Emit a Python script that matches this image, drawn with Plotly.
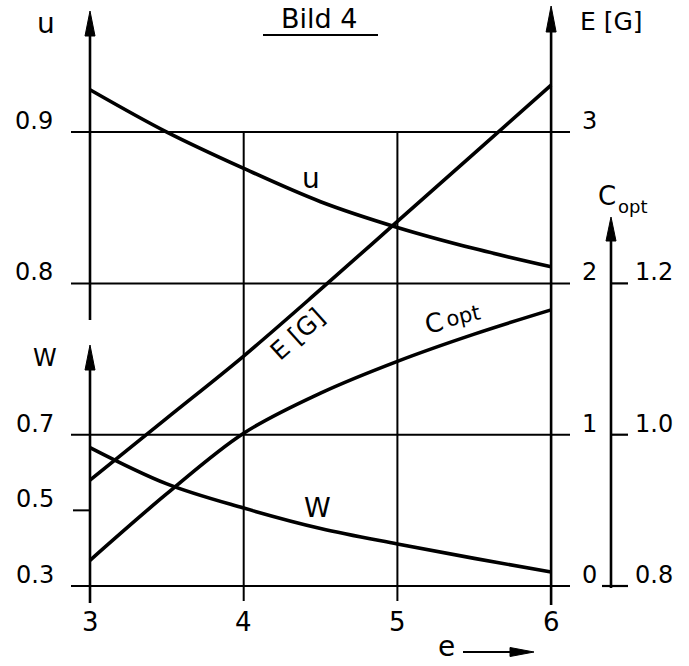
import plotly.graph_objects as go

# ---- data -------------------------------------------------------------
e_vals = [3, 3.5, 4, 4.5, 5, 5.5, 6]
u_vals = [0.928, 0.900, 0.876, 0.854, 0.837, 0.823, 0.811]
eg_vals = [0.70, 1.11, 1.52, 1.96, 2.41, 2.86, 3.31]
w_vals = [0.666, 0.570, 0.506, 0.452, 0.411, 0.373, 0.337]
copt_vals = [0.834, 0.922, 1.002, 1.055, 1.097, 1.133, 1.165]

e_ticks = [3, 4, 5, 6]
u_ticks = [0.8, 0.9]
w_ticks = [0.3, 0.5, 0.7]
eg_ticks = [0, 1, 2, 3]
copt_ticks = [0.8, 1.0, 1.2]

# ---- geometry ---------------------------------------------------------
W_PX, H_PX = 689, 666
X0_PX, XS = 90.0, 153.7      # pixel of e=3, pixels per unit of e
G0_PX, GS = 586.0, 151.3     # pixel of E[G]=0, pixels per unit of E[G]

def px_x(px):
    return 3 + (px - X0_PX) / XS

def px_g(py):
    return (G0_PX - py) / GS

G_LO, G_HI = px_g(H_PX), px_g(0)

# each left/right scale is a linear map of the E[G] grid: value = a + b*g
scales = {"u": (0.8 - 0.2, 0.1), "w": (0.3, 0.4), "c": (0.8, 0.2)}

def rng(key):
    a, b = scales[key]
    return [a + b * G_LO, a + b * G_HI]

INK = "#000000"
FONT = "DejaVu Sans"
LW = 3.6

fig = go.Figure()
fig.add_trace(go.Scatter(x=e_vals, y=eg_vals, yaxis="y", mode="lines",
                         line=dict(color=INK, width=LW, shape="spline"), name="E[G]"))
fig.add_trace(go.Scatter(x=e_vals, y=u_vals, yaxis="y2", mode="lines",
                         line=dict(color=INK, width=LW, shape="spline"), name="u"))
fig.add_trace(go.Scatter(x=e_vals, y=w_vals, yaxis="y3", mode="lines",
                         line=dict(color=INK, width=LW, shape="spline"), name="W"))
fig.add_trace(go.Scatter(x=e_vals, y=copt_vals, yaxis="y4", mode="lines",
                         line=dict(color=INK, width=LW, shape="spline"), name="Copt"))

shapes = []

def seg(x0, y0, x1, y1, yref="y", w=2.0, xref="x"):
    shapes.append(dict(type="line", xref=xref, yref=yref, x0=x0, y0=y0, x1=x1, y1=y1,
                       line=dict(color=INK, width=w), layer="below"))

def ppx(px):
    return px / W_PX

def ppy(py):
    return 1 - py / H_PX

def arrow_up(cx, tip, base, half=5.0):
    path = "M {},{} L {},{} L {},{} Z".format(
        ppx(cx), ppy(tip), ppx(cx - half), ppy(base), ppx(cx + half), ppy(base))
    shapes.append(dict(type="path", xref="paper", yref="paper", path=path,
                       fillcolor=INK, line=dict(color=INK, width=1)))

# horizontal grid lines at the E[G] ticks
for v in eg_ticks:
    seg(px_x(71), v, px_x(570), v, w=2.0)
# short tick for W = 0.5
seg(px_x(73), 0.5, 3, 0.5, yref="y3", w=2.0)
# vertical grid lines at inner e ticks
for v in e_ticks[1:-1]:
    seg(v, 3, v, px_g(601), w=2.0)
# u axis (upper left) and W axis (lower left)
seg(3, px_g(320), 3, px_g(30), w=2.6)
seg(3, px_g(603), 3, px_g(365), w=2.6)
arrow_up(X0_PX, 11, 36)
arrow_up(X0_PX, 345, 370)
# E[G] axis (right)
seg(6, px_g(605), 6, px_g(28), w=2.6)
arrow_up(X0_PX + 3 * XS, 6, 32)
# C_opt axis
xc = px_x(611)
seg(xc, px_g(588), xc, px_g(236), w=2.6)
arrow_up(611, 217, 241)
for v in copt_ticks:
    seg(xc, v, px_x(628), v, yref="y4", w=2.2)
seg(px_x(602), copt_ticks[0], xc, copt_ticks[0], yref="y4", w=2.2)
# title underline
shapes.append(dict(type="line", xref="paper", yref="paper",
                   x0=ppx(263), y0=ppy(35), x1=ppx(378), y1=ppy(35),
                   line=dict(color=INK, width=2)))
# e arrow
shapes.append(dict(type="line", xref="paper", yref="paper",
                   x0=ppx(463), y0=ppy(652), x1=ppx(515), y1=ppy(652),
                   line=dict(color=INK, width=2.2)))
shapes.append(dict(type="path", xref="paper", yref="paper",
                   path="M {},{} L {},{} L {},{} Z".format(
                       ppx(534), ppy(652), ppx(510), ppy(647.5), ppx(510), ppy(656.5)),
                   fillcolor=INK, line=dict(color=INK, width=1)))

ann = []

def text(t, x, y, xref="paper", yref="paper", size=24, xanchor="center",
         yanchor="middle", yshift=0, angle=0):
    ann.append(dict(text=t, x=x, y=y, xref=xref, yref=yref, showarrow=False,
                    xanchor=xanchor, yanchor=yanchor, yshift=yshift, textangle=angle,
                    font=dict(family=FONT, size=size, color=INK)))

# left tick labels
for v in u_ticks:
    text("{:.1f}".format(v), ppx(55), v, yref="y2", xanchor="right", yshift=11)
for v in w_ticks:
    text("{:.1f}".format(v), ppx(56), v, yref="y3", xanchor="right", yshift=11)
# right tick labels
for v in eg_ticks:
    text(str(v), ppx(589), v, yref="y", yshift=11)
for v in copt_ticks:
    text("{:.1f}".format(v), ppx(633), v, yref="y4", xanchor="left", yshift=11)
# bottom tick labels
for v in e_ticks:
    text(str(v), v, ppy(622), xref="x", size=26)

# axis titles
text("Bild 4", ppx(319), ppy(19), size=27)
text("u", ppx(46), ppy(24), size=28)
text("W", ppx(45), ppy(358), size=24)
text("E [G]", ppx(611), ppy(21), size=25)
text("C", ppx(607), ppy(196), size=26)
text("opt", ppx(633), ppy(207), size=18)
text("e", ppx(446), ppy(646), size=28)

# curve labels
text("u", ppx(311), ppy(178), size=28)
text("W", ppx(317), ppy(507), size=27)
text("E [G]", ppx(297), ppy(334), size=25, angle=-42)
text("C", ppx(434), ppy(323), size=26, angle=-13)
text("opt", ppx(463), ppy(316), size=21, angle=-13)

hidden = dict(visible=False, showgrid=False, zeroline=False, fixedrange=True)
fig.update_layout(
    width=W_PX, height=H_PX, autosize=False,
    margin=dict(l=0, r=0, t=0, b=0),
    paper_bgcolor="white", plot_bgcolor="white",
    showlegend=False,
    xaxis=dict(range=[px_x(0), px_x(W_PX)], domain=[0, 1], **hidden),
    yaxis=dict(range=[G_LO, G_HI], domain=[0, 1], **hidden),
    yaxis2=dict(range=rng("u"), overlaying="y", **hidden),
    yaxis3=dict(range=rng("w"), overlaying="y", **hidden),
    yaxis4=dict(range=rng("c"), overlaying="y", **hidden),
    shapes=shapes,
    annotations=ann,
)

fig.write_html("out.html", config=dict(displayModeBar=False))
